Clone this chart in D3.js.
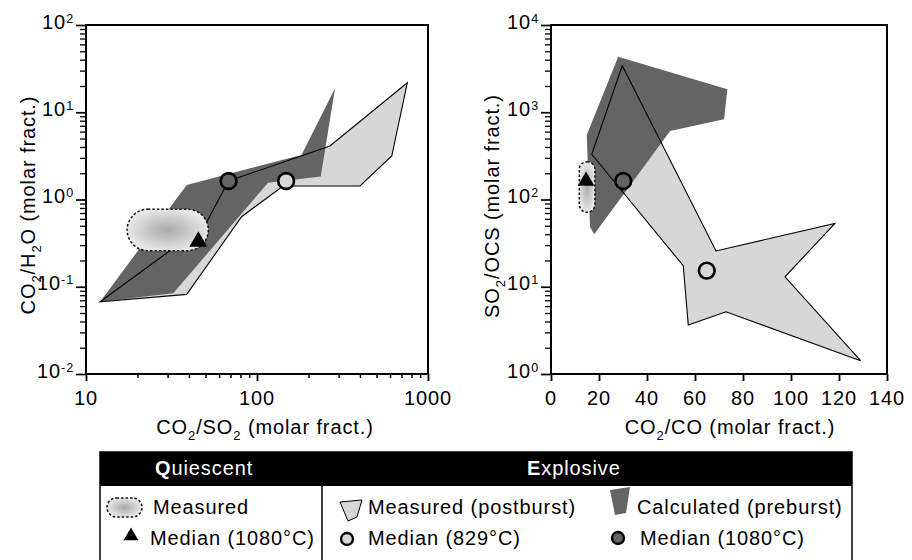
<!DOCTYPE html>
<html><head><meta charset="utf-8">
<script src="https://cdn.jsdelivr.net/npm/d3@7"></script>
<style>
body{margin:0;background:#fff}
text{font-family:"Liberation Sans",Arial,Helvetica,sans-serif;letter-spacing:0.9px}
</style>
</head><body>
<svg id="chart" width="912" height="560"></svg>
<script>
// ---------- data ----------
const leftXTicks = [10, 100, 1000];
const leftYExps = [-2, -1, 0, 1, 2];
const rightXTicks = [0, 20, 40, 60, 80, 100, 120, 140];
const rightYExps = [0, 1, 2, 3, 4];

// Left panel: CO2/SO2 vs CO2/H2O
const leftPostburst = [[12.1,0.0674],[49.7,0.51],[68.2,1.63],[267,4.1],[757,21.8],[614,3.15],[400,1.43],[142,1.43],[81.3,0.635],[38.8,0.0818]];
const leftPreburst = [[12.1,0.0674],[38.8,1.47],[182,3.24],[286,18.8],[236,1.83],[116,1.56],[32.4,0.084]];
const leftQuiescentX = [17.4, 51.9];
const leftQuiescentY = [0.259, 0.773];
const leftQuiescentMedian = [45.4, 0.33];
const leftMedian829 = [148, 1.63];
const leftMedian1080 = [68.2, 1.63];

// Right panel: CO2/CO vs SO2/OCS
const rightPostburst = [[17.0,330],[29.7,3420],[68.75,25.7],[118.3,53.3],[97.5,13.0],[129.0,1.42],[72.9,5.17],[57.2,3.65],[55.1,17.4]];
const rightPreburst = [[14.9,548],[28.0,4330],[73.5,1833],[72.1,830],[49.6,609],[18.0,39.9],[16.25,48.8]];
const rightQuiescentX = [11.8, 18.3];
const rightQuiescentY = [71.3, 271];
const rightQuiescentMedian = [14.6, 163];
const rightMedian829 = [64.9, 15.3];
const rightMedian1080 = [30.1, 163];

// legend labels
const headerLabels = [["Q","uiescent"],["E","xplosive"]];
const legendLabels = ["Measured","Median (1080°C)","Measured (postburst)","Median (829°C)","Calculated (preburst)","Median (1080°C)"];

// ---------- style ----------
const DARK = "#646464", LIGHT = "#d7d7d7";
const FS = 20;
const svg = d3.select("#chart");
const defs = svg.append("defs");
const grad = defs.append("radialGradient").attr("id","qgrad").attr("cx","50%").attr("cy","50%").attr("r","55%");
grad.append("stop").attr("offset","0%").attr("stop-color","#a9a9a9");
grad.append("stop").attr("offset","100%").attr("stop-color","#ececec");

const plotTop = 25, plotBottom = 374;

// ---------- scales ----------
const lx = d3.scaleLog().domain([10,1000]).range([86,428]);
const ly = d3.scaleLog().domain([0.01,100]).range([plotBottom, plotTop]);
const rx = d3.scaleLinear().domain([0,140]).range([551,887]);
const ry = d3.scaleLog().domain([1,10000]).range([plotBottom, plotTop]);

function minorLog(lo, hi){
  const out=[];
  for(let e=lo;e<hi;e++) for(let m=2;m<=9;m++) out.push(m*Math.pow(10,e));
  return out;
}

function logYAxis(g, y, exps, x0){
  const lo = exps[0], hi = exps[exps.length-1];
  g.append("g").attr("transform",`translate(${x0},0)`)
    .call(d3.axisLeft(y).tickValues(minorLog(lo,hi)).tickSize(6).tickFormat(""))
    .call(s=>{s.select(".domain").remove(); s.selectAll("line").attr("stroke-width",1.3);});
  g.append("g").attr("transform",`translate(${x0},0)`)
    .call(d3.axisLeft(y).tickValues(exps.map(e=>Math.pow(10,e))).tickSize(10).tickFormat(""))
    .call(s=>{s.select(".domain").remove(); s.selectAll("line").attr("stroke-width",1.7);});
  const t = g.selectAll(null).data(exps).enter().append("text")
    .attr("x", x0-12).attr("y", e=>y(Math.pow(10,e))+3.5)
    .attr("text-anchor","end").attr("font-size",FS);
  t.append("tspan").text("10");
  t.append("tspan").attr("dy",-6).attr("font-size",12.5).text(e=>String(e));
}

function frame(g, x){
  const [x0,x1]=x.range();
  g.append("rect").attr("x",x0).attr("y",plotTop).attr("width",x1-x0).attr("height",plotBottom-plotTop)
   .attr("fill","none").attr("stroke","#000").attr("stroke-width",2);
}

function poly(g, pts, x, y, fill, stroke){
  g.append("path").attr("d", d3.line().x(d=>x(d[0])).y(d=>y(d[1]))(pts)+"Z")
   .attr("fill",fill).attr("stroke",stroke||"none").attr("stroke-width",1.1).attr("stroke-linejoin","miter");
}

function capsule(g, xs, ys, x, y){
  const x0=x(xs[0]), x1=x(xs[1]), y0=y(ys[1]), y1=y(ys[0]);
  const r=Math.min(x1-x0,y1-y0)/2;
  g.append("rect").attr("x",x0).attr("y",y0).attr("width",x1-x0).attr("height",y1-y0)
   .attr("rx",r).attr("ry",r).attr("fill","url(#qgrad)")
   .attr("stroke","#111").attr("stroke-width",1.5).attr("stroke-dasharray","2.5,2");
}

function circ(g, p, x, y, fill){
  g.append("circle").attr("cx",x(p[0])).attr("cy",y(p[1])).attr("r",7.9)
   .attr("fill",fill).attr("stroke","#000").attr("stroke-width",2.6);
}
function tri(g, p, x, y, size){
  g.append("path").attr("d", d3.symbol(d3.symbolTriangle, size)())
   .attr("transform",`translate(${x(p[0])},${y(p[1])})`).attr("fill","#000");
}

function subText(g, parts, attrs){
  const t = g.append("text");
  Object.entries(attrs).forEach(([k,v])=>t.attr(k,v));
  let sub=false;
  parts.forEach(p=>{
    if(p.sub){ t.append("tspan").attr("dy",6).attr("font-size",13).text(p.s); sub=true; }
    else { t.append("tspan").attr("dy",sub?-6:0).text(p.s); sub=false; }
  });
  return t;
}

// ---------- left panel ----------
const L = svg.append("g");
poly(L, leftPostburst, lx, ly, LIGHT, null);
poly(L, leftPreburst, lx, ly, DARK, null);
poly(L, leftPostburst, lx, ly, "none", "#000");
capsule(L, leftQuiescentX, leftQuiescentY, lx, ly);
tri(L, leftQuiescentMedian, lx, ly, 140);
circ(L, leftMedian1080, lx, ly, DARK);
circ(L, leftMedian829, lx, ly, LIGHT);
frame(L, lx);
logYAxis(L, ly, leftYExps, 86);
L.append("g").attr("transform",`translate(0,${plotBottom})`)
  .call(d3.axisBottom(lx).tickValues(minorLog(1,3)).tickSize(4).tickFormat(""))
  .call(s=>{s.select(".domain").remove(); s.selectAll("line").attr("stroke-width",1.5);});
L.append("g").attr("transform",`translate(0,${plotBottom})`)
  .call(d3.axisBottom(lx).tickValues(leftXTicks).tickSize(7).tickFormat(""))
  .call(s=>{s.select(".domain").remove(); s.selectAll("line").attr("stroke-width",1.8);});
L.selectAll(null).data(leftXTicks).enter().append("text")
  .attr("x",d=>lx(d)).attr("y",405).attr("text-anchor","middle").attr("font-size",FS).text(d=>d);
subText(L, [{s:"CO"},{s:"2",sub:true},{s:"/SO"},{s:"2",sub:true},{s:" (molar fract.)"}],
  {x:265, y:434, "text-anchor":"middle", "font-size":FS});
subText(L, [{s:"CO"},{s:"2",sub:true},{s:"/H"},{s:"2",sub:true},{s:"O (molar fract.)"}],
  {transform:"translate(35,205) rotate(-90)", "text-anchor":"middle", "font-size":FS});

// ---------- right panel ----------
const R = svg.append("g");
poly(R, rightPostburst, rx, ry, LIGHT, null);
poly(R, rightPreburst, rx, ry, DARK, null);
poly(R, rightPostburst, rx, ry, "none", "#000");
capsule(R, rightQuiescentX, rightQuiescentY, rx, ry);
tri(R, rightQuiescentMedian, rx, ry, 120);
circ(R, rightMedian1080, rx, ry, DARK);
circ(R, rightMedian829, rx, ry, LIGHT);
frame(R, rx);
logYAxis(R, ry, rightYExps, 551);
R.append("g").attr("transform",`translate(0,${plotBottom})`)
  .call(d3.axisBottom(rx).tickValues(rightXTicks).tickSize(7).tickFormat(""))
  .call(s=>{s.select(".domain").remove(); s.selectAll("line").attr("stroke-width",1.8);});
R.selectAll(null).data(rightXTicks).enter().append("text")
  .attr("x",d=>rx(d)).attr("y",405).attr("text-anchor","middle").attr("font-size",FS).text(d=>d);
subText(R, [{s:"CO"},{s:"2",sub:true},{s:"/CO (molar fract.)"}],
  {x:730, y:434, "text-anchor":"middle", "font-size":FS});
subText(R, [{s:"SO"},{s:"2",sub:true},{s:"/OCS (molar fract.)"}],
  {transform:"translate(499,206) rotate(-90)", "text-anchor":"middle", "font-size":FS});

// ---------- legend ----------
const G = svg.append("g");
G.append("rect").attr("x",100).attr("y",452).attr("width",752).attr("height",34).attr("fill","#000");
G.append("rect").attr("x",100).attr("y",452).attr("width",752).attr("height",120)
  .attr("fill","none").attr("stroke","#000").attr("stroke-width",1.5);
G.append("line").attr("x1",322).attr("x2",322).attr("y1",486).attr("y2",570).attr("stroke","#000").attr("stroke-width",1.5);
[[155,headerLabels[0]],[527,headerLabels[1]]].forEach(([x,h])=>{
  const t=G.append("text").attr("x",x).attr("y",475).attr("font-size",FS).attr("fill","#fff");
  t.append("tspan").attr("font-weight","bold").text(h[0]);
  t.append("tspan").text(h[1]);
});
// icons
G.append("rect").attr("x",107).attr("y",498).attr("width",35).attr("height",19).attr("rx",9.5)
  .attr("fill","url(#qgrad)").attr("stroke","#111").attr("stroke-width",1.5).attr("stroke-dasharray","2.5,2");
G.append("path").attr("d",d3.symbol(d3.symbolTriangle,95)()).attr("transform","translate(131,536)").attr("fill","#000");
G.append("path").attr("d","M340,502L362,500L357,517L348,521Z").attr("fill",LIGHT).attr("stroke","#000").attr("stroke-width",1);
G.append("path").attr("d","M610,490L630,487L626,513L615,515Z").attr("fill",DARK);
G.append("circle").attr("cx",347).attr("cy",539).attr("r",6).attr("fill",LIGHT).attr("stroke","#000").attr("stroke-width",2.4);
G.append("circle").attr("cx",618).attr("cy",538).attr("r",6).attr("fill",DARK).attr("stroke","#000").attr("stroke-width",2.4);
const lpos=[[153,514],[150,545],[368,514],[368,545],[637,514],[640,545]];
legendLabels.forEach((s,i)=>{
  G.append("text").attr("x",lpos[i][0]).attr("y",lpos[i][1]).attr("font-size",FS).text(s);
});
</script>
</body></html>
